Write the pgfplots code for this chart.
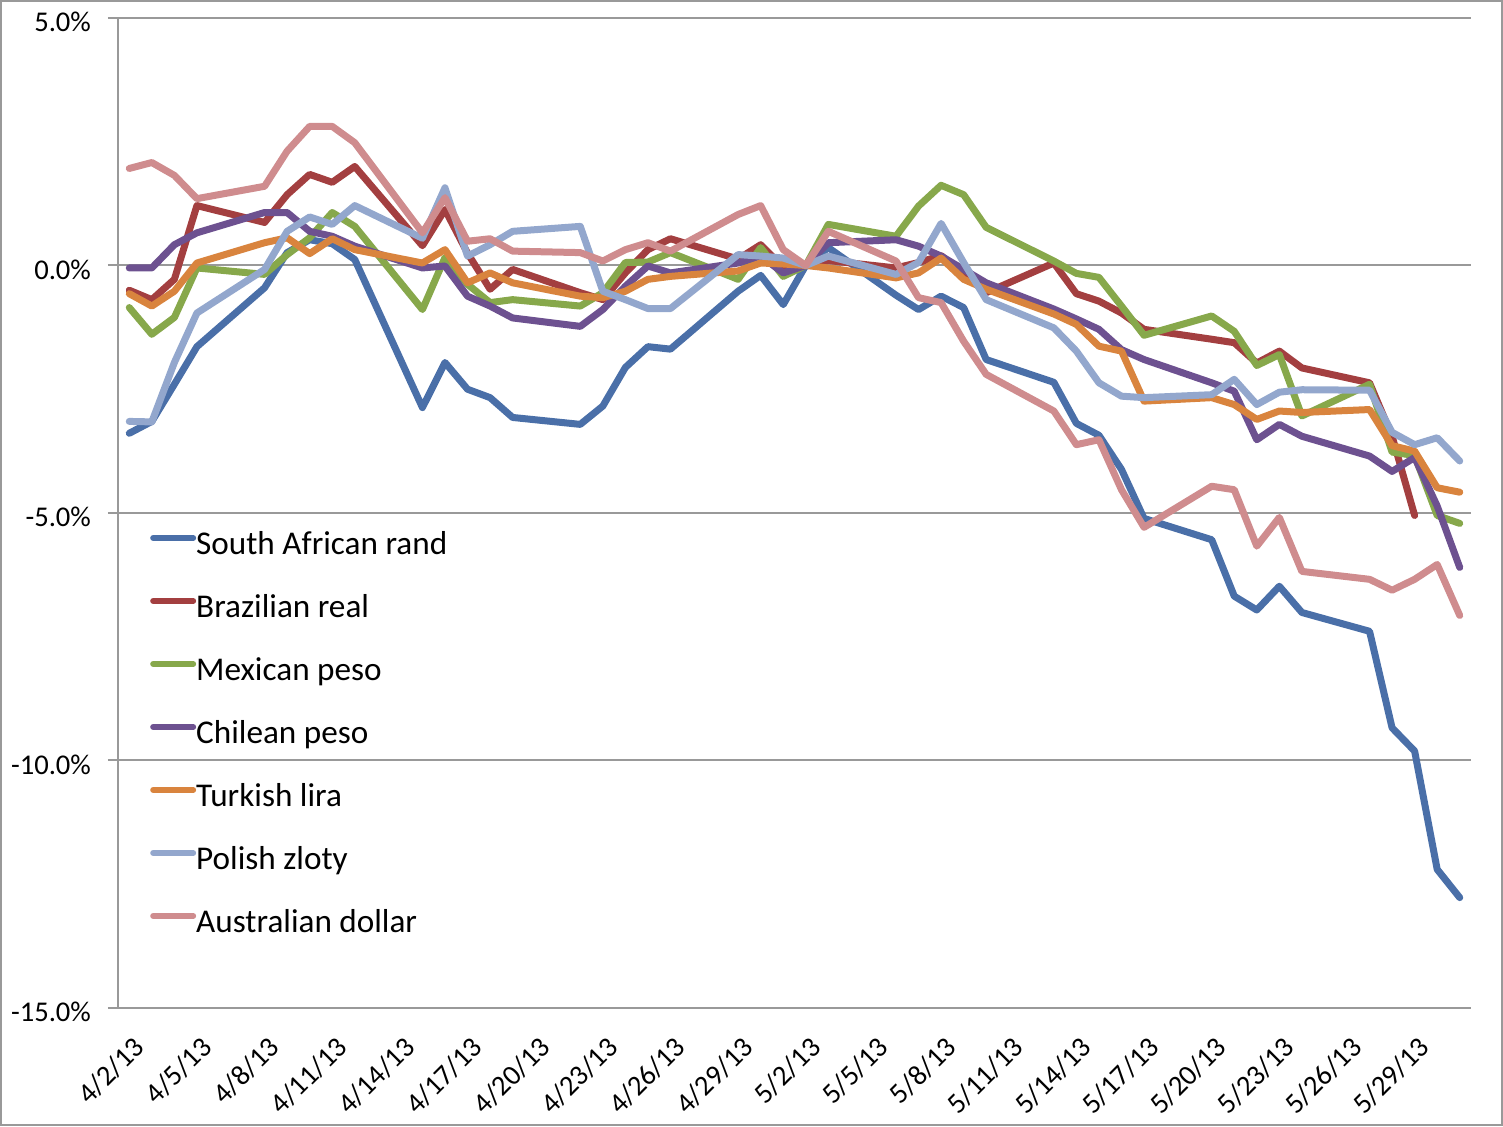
\documentclass[border=0pt]{standalone}
\usepackage{fontspec}
\setmainfont{Carlito}
\usepackage{pgfplots}
\usepackage{pgfplotstable}
\pgfplotsset{compat=1.18}

\definecolor{rand}{HTML}{4A6FA8}
\definecolor{real}{HTML}{A33F40}
\definecolor{mxn}{HTML}{87A84B}
\definecolor{clp}{HTML}{6D5190}
\definecolor{try}{HTML}{D9843E}
\definecolor{pln}{HTML}{93A7CD}
\definecolor{aud}{HTML}{CF8C8E}
\definecolor{gridgray}{HTML}{999999}

% day index: 0 = 4/2/13
\pgfplotstableread{
d  rand   real   mxn    clp    try    pln    aud
0  -3.39  -0.50  -0.85  -0.05  -0.57  -3.15  1.96
1  -3.15  -0.69  -1.39  -0.05  -0.82  -3.16  2.08
2  -2.40  -0.28  -1.05  0.42   -0.52  -1.96  1.82
3  -1.64  1.21   -0.05  0.66   0.05   -0.96  1.35
6  -0.45  0.87   -0.18  1.07   0.46   -0.08  1.60
7  0.26   1.43   0.22   1.07   0.56   0.69   2.31
8  0.52   1.84   0.56   0.69   0.24   0.98   2.81
9  0.44   1.68   1.07   0.59   0.54   0.83   2.81
10 0.12   2.00   0.79   0.39   0.32   1.21   2.48
13 -2.87  0.40   -0.89  -0.05  0.05   0.55   0.66
14 -1.96  1.13   0.16   -0.01  0.32   1.57   1.37
15 -2.50  0.25   -0.38  -0.62  -0.35  0.19   0.49
16 -2.67  -0.48  -0.75  -0.82  -0.15  0.42   0.54
17 -3.07  -0.08  -0.69  -1.06  -0.35  0.69   0.29
20 -3.21  -0.55  -0.82  -1.23  -0.62  0.79   0.26
21 -2.84  -0.69  -0.55  -0.89  -0.65  -0.52  0.09
22 -2.06  -0.15  0.06   -0.42  -0.52  -0.69  0.32
23 -1.64  0.32   0.07   -0.01  -0.28  -0.87  0.46
24 -1.69  0.54   0.26   -0.15  -0.22  -0.87  0.29
27 -0.52  0.13   -0.28  0.05   -0.11  0.22   1.03
28 -0.20  0.42   0.36   0.19   0.05   0.19   1.21
29 -0.79  -0.04  -0.22  -0.15  0.03   0.15   0.32
30 0.00   0.00   0.00   0.00   0.00   0.00   0.00
31 0.36   0.10   0.83   0.46   -0.05  0.19   0.69
34 -0.60  -0.05  0.59   0.52   -0.25  -0.18  0.09
35 -0.89  0.06   1.20   0.39   -0.15  0.06   -0.65
36 -0.62  0.20   1.62   0.19   0.15   0.85   -0.75
37 -0.85  -0.15  1.43   -0.08  -0.28  0.06   -1.53
38 -1.90  -0.55  0.77   -0.35  -0.48  -0.69  -2.20
41 -2.36  0.05   0.09   -0.88  -0.98  -1.26  -2.94
42 -3.19  -0.57  -0.16  -1.08  -1.19  -1.73  -3.62
43 -3.43  -0.72  -0.24  -1.29  -1.63  -2.37  -3.52
44 -4.12  -0.96  -0.82  -1.70  -1.73  -2.64  -4.53
45 -5.11  -1.29  -1.41  -1.90  -2.74  -2.67  -5.29
48 -5.54  -1.49  -1.02  -2.37  -2.67  -2.61  -4.46
49 -6.68  -1.56  -1.33  -2.54  -2.81  -2.30  -4.53
50 -6.96  -1.97  -2.02  -3.52  -3.11  -2.81  -5.67
51 -6.48  -1.73  -1.80  -3.21  -2.94  -2.56  -5.09
52 -7.01  -2.07  -3.04  -3.45  -2.97  -2.51  -6.18
55 -7.39  -2.37  -2.40  -3.85  -2.91  -2.52  -6.34
56 -9.34  -3.45  -3.77  -4.16  -3.64  -3.37  -6.56
57 -9.81  -5.05  -3.84  -3.88  -3.75  -3.62  -6.34
58 -12.20 nan    -5.05  -4.86  -4.49  -3.48  -6.04
59 -12.77 nan    -5.21  -6.10  -4.58  -3.95  -7.07
}\fx

\begin{document}
\begin{tikzpicture}
\begin{axis}[%
width=676.5pt,
height=495pt,
scale only axis,
xmin=-0.5, xmax=59.5,
ymin=-15, ymax=5,
axis lines*=left,
axis line style={-, draw=gridgray, line width=1pt},
xtick={0,3,...,57},
xticklabels={4/2/13,4/5/13,4/8/13,4/11/13,4/14/13,4/17/13,4/20/13,4/23/13,4/26/13,4/29/13,
5/2/13,5/5/13,5/8/13,5/11/13,5/14/13,5/17/13,5/20/13,5/23/13,5/26/13,5/29/13},
x tick style={draw=none},
x tick label style={xshift=5.2pt, yshift=-12.2pt, rotate=45, anchor=east,
  inner sep=0pt, text height=9pt, text depth=0pt, font=\fontsize{14.3}{17}\selectfont},
ytick={-15,-10,-5,0,5},
yticklabels={-15.0\%,-10.0\%,-5.0\%,0.0\%,5.0\%},
y tick style={draw=gridgray, line width=1pt},
y tick label style={font=\fontsize{14.3}{17}\selectfont, xshift=-5pt, yshift=-2pt},
tick align=outside,
major tick length=5pt,
ymajorgrids,
grid style={draw=gridgray, line width=1pt},
clip=false,
every axis plot/.append style={line width=3.5pt, line join=round, line cap=round},
legend cell align=left,
legend image code/.code={\draw[#1, line width=3pt, line cap=round] (0pt,4pt) -- (20pt,4pt);},
legend style={at={(0.0235,0.4828)}, anchor=north west, draw=none, fill=none,
  inner sep=0pt, row sep=16pt,
  font=\fontsize{16.6}{20}\selectfont,
  nodes={inner sep=0pt, text height=12pt, text depth=3.5pt},
  /tikz/every even column/.append style={column sep=2.4pt}},
]
\foreach \k in {0,...,20} {
  \edef\temp{\noexpand\draw[gridgray, line width=1pt] (axis cs:{-0.5+3*\k},0) ++(0,-4pt) -- ++(0,8pt);}
  \temp
}
\addplot[rand] table[x=d, y=rand] {\fx};
\addlegendentry{South African rand}
\addplot[real] table[x=d, y=real] {\fx};
\addlegendentry{Brazilian real}
\addplot[mxn] table[x=d, y=mxn] {\fx};
\addlegendentry{Mexican peso}
\addplot[clp] table[x=d, y=clp] {\fx};
\addlegendentry{Chilean peso}
\addplot[try] table[x=d, y=try] {\fx};
\addlegendentry{Turkish lira}
\addplot[pln] table[x=d, y=pln] {\fx};
\addlegendentry{Polish zloty}
\addplot[aud] table[x=d, y=aud] {\fx};
\addlegendentry{Australian dollar}
\coordinate (ll) at (rel axis cs:0,0);
\coordinate (ur) at (rel axis cs:1,1);
\end{axis}
\draw[gridgray, line width=1pt] ([shift={(-58.5pt,-58.5pt)}]ll) rectangle ([shift={(15.5pt,8.5pt)}]ur);
\pgfresetboundingbox
\path ([shift={(-59pt,-59pt)}]ll) rectangle ([shift={(16pt,9pt)}]ur);
\end{tikzpicture}
\end{document}
